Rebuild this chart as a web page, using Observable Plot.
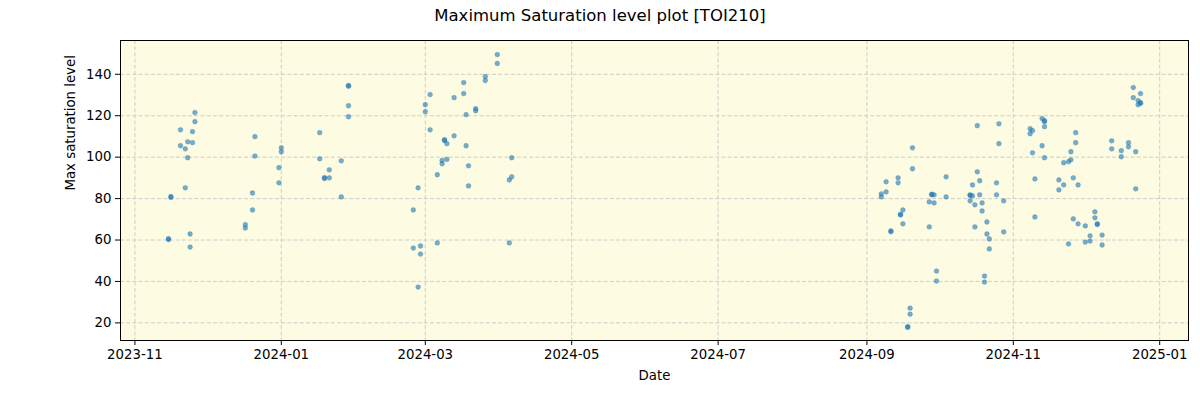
<!DOCTYPE html>
<html>
<head>
<meta charset="utf-8">
<script src="https://cdn.jsdelivr.net/npm/d3@7"></script>
<script src="https://cdn.jsdelivr.net/npm/@observablehq/plot@0.6"></script>
<style>
  html, body { margin: 0; padding: 0; background: #ffffff; }
  #wrap { width: 1200px; height: 400px; overflow: hidden; }
  #title { height: 30px; box-sizing: border-box; padding-top: 6px; text-align: center;
           font-family: "DejaVu Sans", sans-serif; font-size: 16.5px; line-height: 20px; color: #000; }
</style>
</head>
<body>
<div id="wrap">
  <div id="title">Maximum Saturation level plot [TOI210]</div>
  <div id="chart"></div>
</div>
<script>
const dates = [
  "2023-11-15","2023-11-15","2023-11-16","2023-11-16","2023-11-20","2023-11-20",
  "2023-11-22","2023-11-22","2023-11-23","2023-11-23","2023-11-24","2023-11-24",
  "2023-11-25","2023-11-25","2023-11-26","2023-11-26",
  "2023-12-17","2023-12-17","2023-12-20","2023-12-20","2023-12-21","2023-12-21",
  "2023-12-31","2023-12-31","2024-01-01","2024-01-01",
  "2024-01-17","2024-01-17","2024-01-19","2024-01-19","2024-01-21","2024-01-21",
  "2024-01-26","2024-01-26","2024-01-29","2024-01-29","2024-01-29","2024-01-29",
  "2024-02-25","2024-02-25","2024-02-27","2024-02-27","2024-02-28","2024-02-28",
  "2024-03-01","2024-03-01","2024-03-03","2024-03-03","2024-03-06","2024-03-06",
  "2024-03-08","2024-03-08","2024-03-09","2024-03-09","2024-03-10","2024-03-10",
  "2024-03-13","2024-03-13","2024-03-17","2024-03-17","2024-03-18","2024-03-18",
  "2024-03-19","2024-03-19","2024-03-22","2024-03-22","2024-03-26","2024-03-26",
  "2024-03-31","2024-03-31","2024-04-05","2024-04-05","2024-04-06","2024-04-06",
  "2024-09-07","2024-09-07","2024-09-09","2024-09-09","2024-09-11","2024-09-11",
  "2024-09-14","2024-09-14","2024-09-15","2024-09-15","2024-09-16","2024-09-16",
  "2024-09-18","2024-09-18","2024-09-19","2024-09-19","2024-09-20","2024-09-20",
  "2024-09-27","2024-09-27","2024-09-28","2024-09-28","2024-09-29","2024-09-29",
  "2024-09-30","2024-09-30","2024-10-04","2024-10-04",
  "2024-10-14","2024-10-14","2024-10-14","2024-10-15","2024-10-15",
  "2024-10-16","2024-10-16","2024-10-17","2024-10-17","2024-10-18","2024-10-18",
  "2024-10-19","2024-10-19","2024-10-20","2024-10-20","2024-10-21","2024-10-21",
  "2024-10-22","2024-10-22","2024-10-25","2024-10-25","2024-10-26","2024-10-26",
  "2024-10-28","2024-10-28",
  "2024-11-08","2024-11-08","2024-11-09","2024-11-09","2024-11-10","2024-11-10",
  "2024-11-13","2024-11-13","2024-11-14","2024-11-14","2024-11-14","2024-11-14",
  "2024-11-20","2024-11-20","2024-11-22","2024-11-22","2024-11-24","2024-11-24",
  "2024-11-25","2024-11-25","2024-11-26","2024-11-26","2024-11-27","2024-11-27",
  "2024-11-28","2024-11-28","2024-12-01","2024-12-01","2024-12-03","2024-12-03",
  "2024-12-05","2024-12-05","2024-12-06","2024-12-06","2024-12-08","2024-12-08",
  "2024-12-12","2024-12-12","2024-12-16","2024-12-16","2024-12-19","2024-12-19",
  "2024-12-21","2024-12-21","2024-12-22","2024-12-22","2024-12-23","2024-12-23",
  "2024-12-24","2024-12-24","2024-12-24"
];
const saturation = [
  60.2,60.6,80.5,81.0,113.2,105.5,
  104.0,85.2,107.4,99.7,62.9,56.6,
  112.3,107.0,121.5,117.1,
  67.4,65.8,82.7,74.5,109.9,100.5,
  94.9,87.6,104.5,102.6,
  111.8,99.2,89.7,90.1,93.9,90.0,
  98.2,80.8,134.2,134.6,124.8,119.5,
  74.5,56.1,85.2,37.3,57.1,53.2,
  125.3,121.9,130.2,113.2,91.5,58.6,
  98.4,96.8,108.4,108.0,106.5,98.9,
  128.7,110.3,136.0,130.7,120.5,105.5,
  95.8,86.1,123.4,122.4,138.9,137.0,
  149.5,145.2,89.0,58.6,99.7,90.5,
  82.3,80.8,88.1,83.2,64.4,64.0,
  90.0,87.6,72.1,72.4,74.5,67.8,
  18.2,17.8,27.1,24.2,104.5,94.4,
  78.4,66.3,81.8,82.1,81.8,77.9,
  45.0,40.2,90.5,80.8,
  81.8,81.5,78.9,86.6,81.3,
  77.0,66.3,115.2,92.9,88.6,81.8,
  77.9,74.0,42.6,39.7,68.7,62.9,
  60.5,55.7,87.6,81.8,116.1,106.5,
  78.9,63.9,
  113.7,111.3,112.8,102.1,89.5,71.1,
  118.6,105.5,117.6,117.1,114.7,99.7,
  89.0,84.2,97.3,86.6,97.8,58.1,
  102.6,98.7,90.0,70.2,111.8,107.0,
  86.6,67.8,66.8,59.0,62.0,59.5,
  73.6,70.7,67.8,67.5,62.4,57.6,
  107.9,104.0,103.1,100.2,107.0,105.0,
  133.6,128.7,102.6,84.7,127.3,125.3,
  130.7,126.3,126.0
];
const xTickLabels = ["2023-11","2024-01","2024-03","2024-05","2024-07","2024-09","2024-11","2025-01"];
const yTicks = [20, 40, 60, 80, 100, 120, 140];

const parse = d3.utcParse("%Y-%m-%d");
const parseMonth = d3.utcParse("%Y-%m");
const data = dates.map((d, i) => ({date: parse(d), value: saturation[i]}));
const xTicks = xTickLabels.map(parseMonth);

const chart = Plot.plot({
  width: 1200,
  height: 370,
  marginTop: 10,
  marginBottom: 60,
  marginLeft: 120,
  marginRight: 12,
  style: {fontFamily: "DejaVu Sans, sans-serif", fontSize: "13.3px", color: "#000", background: "transparent"},
  x: {type: "utc", domain: [parse("2023-10-26"), parse("2025-01-13")]},
  y: {domain: [11.5, 156.3]},
  marks: [
    Plot.frame({fill: "#fdfbe1"}),
    Plot.ruleX(xTicks, {stroke: "#c8c8c8", strokeWidth: 0.9, strokeDasharray: "4,2.2"}),
    Plot.ruleY(yTicks, {stroke: "#c8c8c8", strokeWidth: 0.9, strokeDasharray: "4,2.2"}),
    Plot.dot(data, {x: "date", y: "value", r: 2.4, fill: "#1f77b4", fillOpacity: 0.6,
                    stroke: "#1f77b4", strokeOpacity: 0.35, strokeWidth: 0.8}),
    Plot.frame({stroke: "#000", strokeWidth: 1}),
    Plot.axisX({ticks: xTicks, tickFormat: d3.utcFormat("%Y-%m"), tickSize: 5, tickPadding: 4, label: null}),
    Plot.axisY({ticks: yTicks, tickSize: 5, tickPadding: 4, label: null}),
    Plot.text(["Date"], {frameAnchor: "bottom", dy: 39, text: d => d, fontSize: 13.3}),
    Plot.text(["Max saturation level"], {frameAnchor: "left", dx: -50, rotate: -90, text: d => d, fontSize: 13.3})
  ]
});
document.getElementById("chart").appendChild(chart);
</script>
</body>
</html>
